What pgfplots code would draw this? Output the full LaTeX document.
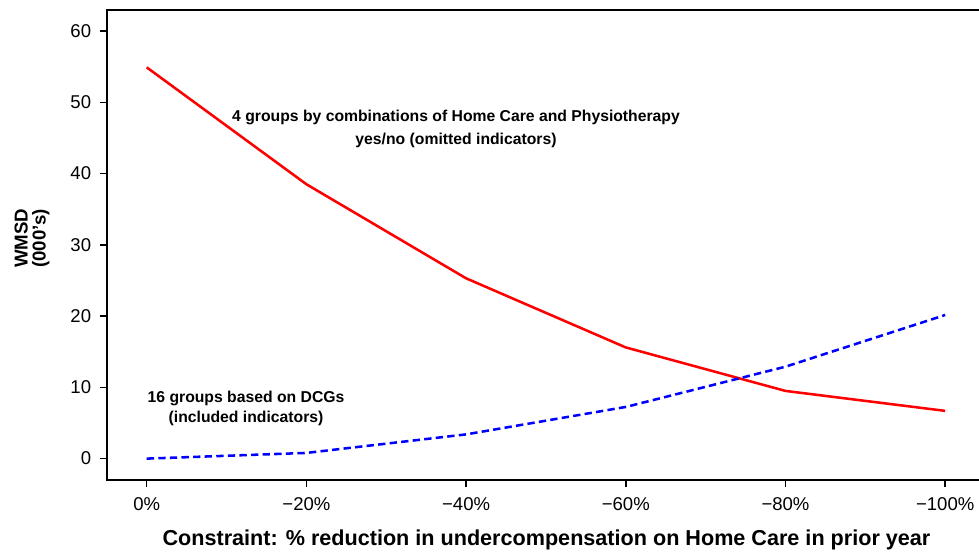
\documentclass[border=0pt]{standalone}
\usepackage{pgfplots}
\pgfplotsset{compat=1.18}
\usepackage{fontspec}
\setmainfont{Liberation Sans}
\begin{document}
\begin{tikzpicture}
\begin{axis}[
  scale only axis,
  width=669pt, height=352.5pt,
  xmin=-0.2486, xmax=5.337,
  ymin=-3, ymax=62.95,
  xtick={0,1,2,3,4,5},
  xticklabels={0\%,−20\%,−40\%,−60\%,−80\%,−100\%},
  ytick={0,10,20,30,40,50,60},
  xtick pos=bottom, ytick pos=left,
  tick align=outside,
  major tick length=5.25pt,
  tick style={line width=1.1pt, black},
  axis line style={line width=1.25pt, black},
  /pgf/number format/assume math mode=true,
  ticklabel style={font=\fontsize{13.9}{16}\selectfont},
  yticklabel style={anchor=east, inner sep=0pt, xshift=-6.5pt},
  xticklabel style={anchor=north, inner sep=0pt, yshift=-8pt},
  xlabel={\bfseries Constraint: \% reduction in undercompensation on Home Care in prior year},
  xlabel style={font=\fontsize{16.2}{19}\selectfont, at={(axis description cs:0.4927,-0.1383)}, anchor=base, inner sep=0pt},
  ylabel={WMSD\\(000's)},
  ylabel style={font=\fontsize{14}{13.5}\selectfont\bfseries, at={(axis description cs:-0.0840,0.514)}, anchor=center, align=center},
  clip=false,
]
\addplot[color={rgb,255:red,255;green,0;blue,0}, line width=1.9pt] coordinates {
  (0,54.9) (1,38.5) (2,25.3) (3,15.6) (4,9.5) (5,6.7)
};
\addplot[color={rgb,255:red,0;green,0;blue,255}, line width=1.9pt, dash pattern=on 5.5pt off 3.2pt] coordinates {
  (0,0) (1,0.8) (2,3.4) (3,7.25) (4,12.9) (5,20.15)
};
\node[font=\fontsize{11.8}{17.25}\selectfont\bfseries, align=center] at (axis cs:1.937,46.3)
  {4 groups by combinations of Home Care and Physiotherapy\\yes/no (omitted indicators)};
\node[font=\fontsize{11.8}{15}\selectfont\bfseries, align=center] at (axis cs:0.622,7.0)
  {16 groups based on DCGs\\(included indicators)};
\end{axis}
\pgfresetboundingbox
\path[use as bounding box] (-80.25pt,-54.75pt) rectangle (654pt,360pt);
\end{tikzpicture}
\end{document}
